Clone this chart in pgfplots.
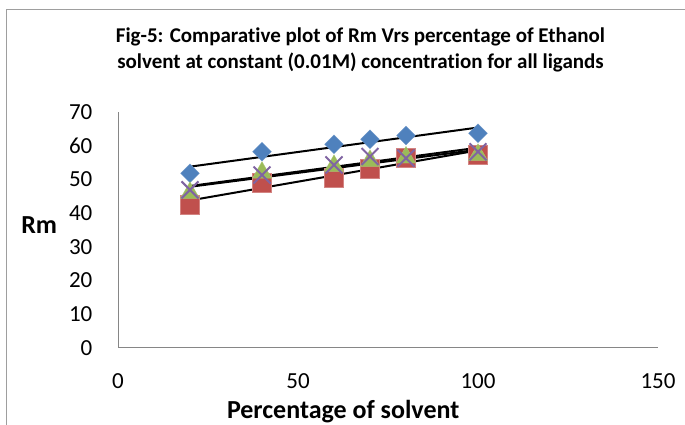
\documentclass[border=0pt]{standalone}
\usepackage{pgfplots}
\usepackage{pgfplotstable}
\pgfplotsset{compat=1.18}
\usepackage{fontspec}
\setmainfont{Carlito}[Ligatures={NoCommon,NoContextual}, RawFeature={-liga;-clig;-dlig}]
\definecolor{sBlue}{HTML}{4F81BD}
\definecolor{sRed}{HTML}{C0504D}
\definecolor{sGreen}{HTML}{9BBB59}
\definecolor{sPurple}{HTML}{8064A2}
\definecolor{axgray}{HTML}{868686}
\pgfplotstableread{
x y
20 51.8
40 58.2
60 60.4
70 61.9
80 63.0
100 63.7
}\tblA
\pgfplotstableread{
x y
20 42.6
40 48.9
60 50.4
70 53.3
80 56.5
100 57.3
}\tblB
\pgfplotstableread{
x y
20 46.0
40 52.0
60 54.0
70 55.5
80 56.5
100 57.3
}\tblC
\pgfplotstableread{
x y
20 46.9
40 51.3
60 54.3
70 56.8
80 56.3
100 58.2
}\tblD
\begin{document}
\begin{tikzpicture}[x=1pt,y=1pt]
\path[use as bounding box] (0,0) rectangle (685,425);
\draw[axgray!80, line width=1pt] (6.5,0) -- (6.5,415) -- (685,415);
\begin{axis}[
  at={(118pt,77pt)}, anchor=south west,
  scale only axis, width=540pt, height=236pt,
  xmin=0, xmax=150, ymin=0, ymax=70,
  xtick={0,50,100,150}, ytick={0,10,...,70},
  axis x line=bottom, axis y line=left,
  axis line style={axgray, line width=1pt, -},
  tick style={draw=none},
  /pgf/number format/assume math mode=true,
  tick label style={font=\fontsize{23}{27}\selectfont},
  xticklabel style={yshift=-20pt},
  yticklabel style={xshift=-20pt},
  title={Fig-5: Comparative plot of Rm Vrs percentage of Ethanol\\solvent at constant (0.01M) concentration for all ligands},
  title style={at={(0.449,1.237)}, anchor=center, align=center, font=\fontsize{21}{26}\selectfont\bfseries},
  xlabel={Percentage of solvent},
  xlabel style={at={(0.417,-0.268)}, anchor=center, font=\fontsize{26}{30}\selectfont\bfseries},
  ylabel={Rm},
  ylabel style={at={(-0.146,0.521)}, anchor=center, rotate=-90, font=\fontsize{26}{30}\selectfont\bfseries},
  clip=false,
]
\addplot[only marks, mark=square*, mark size=6.6pt, mark options={rotate=45, fill=sBlue, draw=sBlue!85!white}] table[x=x,y=y] {\tblA};
\addplot[only marks, mark=square*, mark size=9.5pt, mark options={fill=sRed, draw=sRed!70!white}] table[x=x,y=y] {\tblB};
\addplot[only marks, mark=triangle*, mark size=11pt, mark options={fill=sGreen, draw=sGreen!85!white}] table[x=x,y=y] {\tblC};
\addplot[only marks, mark=x, mark size=12pt, mark options={draw=sPurple, line width=2pt}] table[x=x,y=y] {\tblD};
\addplot[black, line width=2pt, no markers] table[x=x, y={create col/linear regression={y=y}}] {\tblA};
\addplot[black, line width=2pt, no markers] table[x=x, y={create col/linear regression={y=y}}] {\tblB};
\addplot[black, line width=2pt, no markers] table[x=x, y={create col/linear regression={y=y}}] {\tblC};
\addplot[black, line width=2pt, no markers] table[x=x, y={create col/linear regression={y=y}}] {\tblD};
\end{axis}
\end{tikzpicture}
\end{document}
